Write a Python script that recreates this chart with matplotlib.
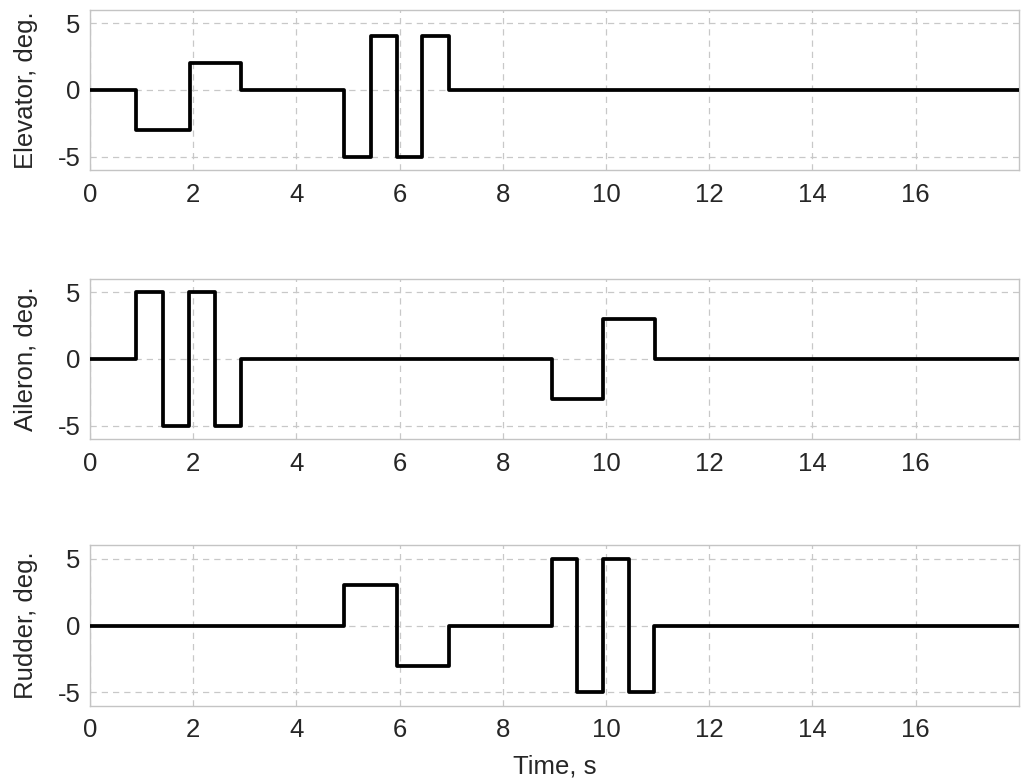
import numpy as np
import matplotlib
matplotlib.use('Agg')
import matplotlib.pyplot as plt

plt.rcParams['font.family'] = ['Liberation Sans', 'DejaVu Sans']
plt.rcParams['axes.unicode_minus'] = False

# step change times (s) and the deflection held from each time on (deg.)
t_elev = [0.0, 0.9, 1.94, 2.93, 4.93, 5.44, 5.94, 6.43, 6.95, 18.0]
v_elev = [0, -3, 2, 0, -5, 4, -5, 4, 0, 0]

t_ail = [0.0, 0.9, 1.42, 1.92, 2.43, 2.93, 8.95, 9.94, 10.95, 18.0]
v_ail = [0, 5, -5, 5, -5, 0, -3, 3, 0, 0]

t_rud = [0.0, 4.93, 5.94, 6.95, 8.95, 9.44, 9.94, 10.44, 10.94, 18.0]
v_rud = [0, 3, -3, 0, 5, -5, 5, -5, 0, 0]

xticks = [0, 2, 4, 6, 8, 10, 12, 14, 16]
yticks = [-5, 0, 5]
ylabels = ['Elevator, deg.', 'Aileron, deg.', 'Rudder, deg.']

fig = plt.figure(figsize=(10.24, 7.82), dpi=100)
bottoms = [0.7826, 0.4386, 0.0976]
series = [(t_elev, v_elev), (t_ail, v_ail), (t_rud, v_rud)]

for k in range(3):
    ax = fig.add_axes([0.0879, bottoms[k], 0.907, 0.205])
    t, v = series[k]
    ax.plot(t, v, drawstyle='steps-post', color='black', lw=2.7, zorder=3)
    ax.set_xlim(0, 18);  ax.set_ylim(-6, 6)
    ax.set_xticks(xticks);  ax.set_yticks(yticks)
    ax.grid(True, ls=(0, (5, 4)), color='#c8c8c8', lw=0.9)
    for s in ax.spines.values():
        s.set_color('#c4c4c4');  s.set_linewidth(1.0)
    ax.tick_params(length=0, labelsize=18.5, labelcolor='#262626')
    ax.tick_params(axis='x', pad=9);  ax.tick_params(axis='y', pad=7)
    ax.set_ylabel(ylabels[k], fontsize=18.5, color='#262626', labelpad=14)
    if k == 2:
        ax.set_xlabel('Time, s', fontsize=18.5, color='#262626', labelpad=9)

fig.savefig('out.png', dpi=100)
